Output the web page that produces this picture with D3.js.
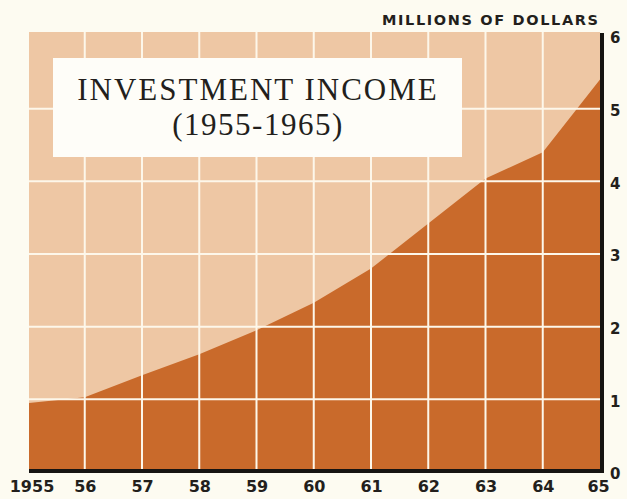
<!DOCTYPE html>
<html>
<head>
<meta charset="utf-8">
<script src="https://cdn.jsdelivr.net/npm/d3@7"></script>
<style>
  html, body { margin: 0; padding: 0; background: #fdfbf1; }
  svg { display: block; }
</style>
</head>
<body>
<svg id="chart" width="627" height="499"></svg>
<script>
// ---- data ----
const years = [1955, 1956, 1957, 1958, 1959, 1960, 1961, 1962, 1963, 1964, 1965];
const income = [0.95, 1.03, 1.33, 1.62, 1.95, 2.33, 2.80, 3.42, 4.04, 4.40, 5.40]; // millions of dollars
const xTickLabels = ["1955", "56", "57", "58", "59", "60", "61", "62", "63", "64", "65"];
const yTicks = [0, 1, 2, 3, 4, 5, 6];
const titleLines = ["INVESTMENT INCOME", "(1955-1965)"];
const unitLabel = "MILLIONS OF DOLLARS";

// ---- layout ----
const svg = d3.select("#chart");
const x = d3.scaleLinear().domain([1955, 1965]).range([27.5, 600]);
const y = d3.scaleLinear().domain([0, 6]).range([472, 36]);
const plotLeft = 29, plotTop = 32;

const light = "#eec7a4", dark = "#c96a2b", grid = "#fdf7ea", ink = "#231f1c";

// light background of plot
svg.append("rect")
  .attr("x", plotLeft).attr("y", plotTop)
  .attr("width", x(1965) - plotLeft).attr("height", y(0) - plotTop)
  .attr("fill", light);

// area
const pts = years.map((yr, i) => ({ yr, v: income[i] }));
const area = d3.area()
  .x((d, i) => i === 0 ? plotLeft : x(d.yr))
  .y0(y(0))
  .y1(d => y(d.v))
  .curve(d3.curveLinear);
svg.append("path").datum(pts).attr("d", area).attr("fill", dark);

// gridlines
svg.append("g").selectAll("line.v")
  .data(years.slice(1, -1))
  .join("line")
  .attr("x1", d => x(d)).attr("x2", d => x(d))
  .attr("y1", plotTop).attr("y2", y(0))
  .attr("stroke", grid).attr("stroke-width", 2);
svg.append("g").selectAll("line.h")
  .data(yTicks.slice(1, -1))
  .join("line")
  .attr("x1", plotLeft).attr("x2", x(1965))
  .attr("y1", d => y(d)).attr("y2", d => y(d))
  .attr("stroke", grid).attr("stroke-width", 2);

// title box
svg.append("rect")
  .attr("x", 53).attr("y", 58).attr("width", 409).attr("height", 99)
  .attr("fill", "#fefdf8");
svg.append("text")
  .attr("x", 258).attr("y", 100)
  .attr("text-anchor", "middle")
  .attr("font-family", "'Liberation Serif', 'Times New Roman', serif")
  .attr("font-size", 31).attr("letter-spacing", 2)
  .attr("fill", ink)
  .text(titleLines[0]);
svg.append("text")
  .attr("x", 258).attr("y", 135)
  .attr("text-anchor", "middle")
  .attr("font-family", "'Liberation Serif', 'Times New Roman', serif")
  .attr("font-size", 31).attr("letter-spacing", 1.5)
  .attr("fill", ink)
  .text(titleLines[1]);

// axes (right and bottom) via d3 axis generators
const yAxis = d3.axisRight(y).tickValues(yTicks).tickSize(0).tickPadding(8).tickFormat(d3.format("d"));
const gy = svg.append("g").attr("transform", `translate(${x(1965) + 2},0)`).call(yAxis);
gy.select(".domain").remove();
gy.selectAll("text")
  .attr("font-family", "'DejaVu Sans', sans-serif")
  .attr("font-weight", "bold").attr("font-size", 15)
  .attr("fill", ink).attr("dy", "0.45em");

const xAxis = d3.axisBottom(x).tickValues(years).tickSize(0).tickPadding(9)
  .tickFormat((d, i) => xTickLabels[i]);
const gx = svg.append("g").attr("transform", `translate(0,${y(0)})`).call(xAxis);
gx.select(".domain").remove();
gx.selectAll("text")
  .attr("font-family", "'DejaVu Sans', sans-serif")
  .attr("font-weight", "bold").attr("font-size", 16)
  .attr("fill", ink);
gx.selectAll(".tick").filter((d, i) => i === 0).select("text").attr("dx", 4);
gx.selectAll(".tick").filter((d, i) => i === years.length - 1).select("text").attr("dx", -2);

// axis lines
svg.append("line")
  .attr("x1", x(1965) + 2).attr("x2", x(1965) + 2)
  .attr("y1", 33).attr("y2", y(0) + 1)
  .attr("stroke", "#161412").attr("stroke-width", 4);
svg.append("line")
  .attr("x1", plotLeft).attr("x2", x(1965) + 4)
  .attr("y1", y(0) - 1).attr("y2", y(0) - 1)
  .attr("stroke", "#161412").attr("stroke-width", 4);

// unit label
svg.append("text")
  .attr("x", 382).attr("y", 25)
  .attr("font-family", "'DejaVu Sans', sans-serif")
  .attr("font-weight", "bold").attr("font-size", 14.5)
  .attr("textLength", 216).attr("lengthAdjust", "spacing")
  .attr("fill", ink)
  .text(unitLabel);
</script>
</body>
</html>
